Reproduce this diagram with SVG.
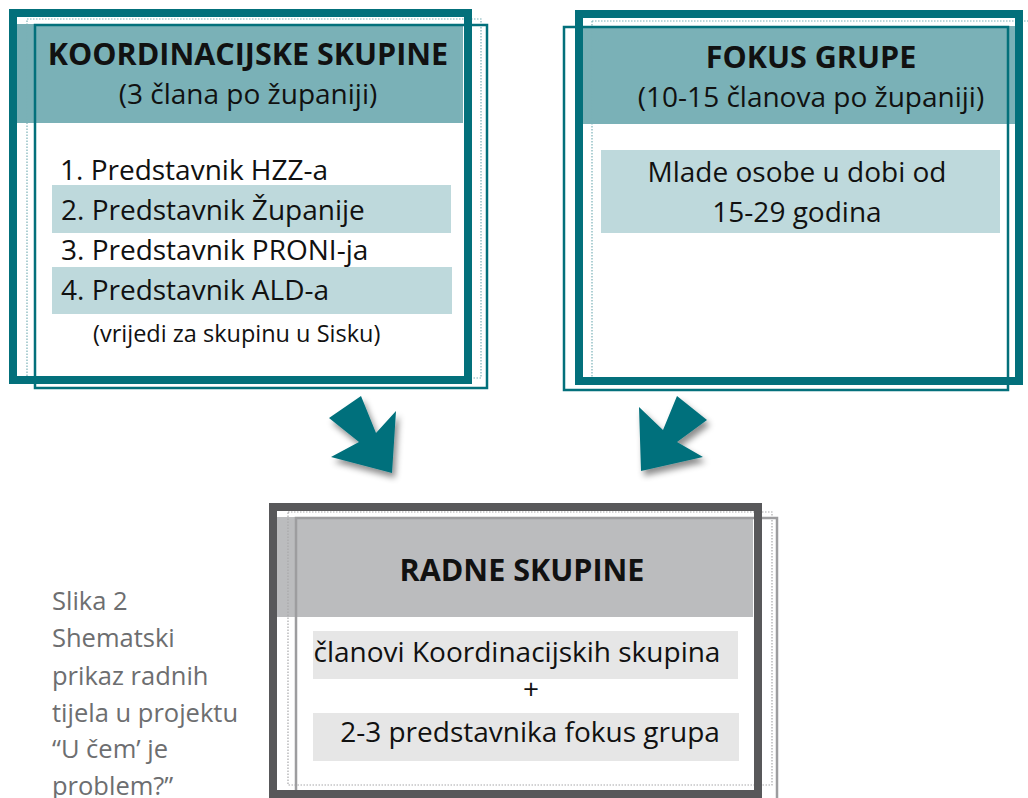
<svg xmlns="http://www.w3.org/2000/svg" width="1028" height="798" viewBox="0 0 1028 798">
<defs>
<style>
text{font-family:"Open Sans","Noto Sans","Liberation Sans",sans-serif;fill:#111;}
.h{font-weight:bold;font-size:30.5px;text-anchor:middle;}
.sub{font-size:28px;text-anchor:middle;}
.li{font-size:28px;}
.small{font-size:23.5px;}
.cap{font-size:25.5px;fill:#6D6E70;}
.thickT{fill:none;stroke:#03707B;stroke-width:8;}
.thinT{fill:none;stroke:#03707B;stroke-width:2.5;}
.dotT{fill:none;stroke:#7AB1B7;stroke-width:1.2;stroke-dasharray:1.5 1.5;}
.hdrT{fill:#7AB1B7;}
.band{fill:#BED9DC;}
.thickG{fill:none;stroke:#58585A;stroke-width:8;}
.thinG{fill:none;stroke:#9D9D9F;stroke-width:2.5;}
.dotG{fill:none;stroke:#A8A8AA;stroke-width:1.2;stroke-dasharray:1.5 1.5;}
.bandG{fill:#E6E6E6;}
.arrow{fill:#03707B;filter:url(#sh);}
</style>
<filter id="sh" x="-30%" y="-30%" width="160%" height="160%">
<feDropShadow dx="3" dy="5" stdDeviation="3" flood-color="#000" flood-opacity="0.45"/>
</filter>
</defs>

<g id="koordinacijske">
<rect class="hdrT" x="17" y="24" width="446" height="99"/>
<rect class="dotT" x="27" y="19" width="454" height="359"/>
<rect class="thinT" x="35" y="25" width="452" height="363"/>
<rect class="thickT" x="13" y="13" width="455" height="367"/>
<text class="h" x="248" y="65">KOORDINACIJSKE SKUPINE</text>
<text class="sub" x="248" y="104">(3 člana po županiji)</text>
<rect class="band" x="52" y="185" width="399" height="48"/>
<rect class="band" x="52" y="267" width="400" height="47"/>
<text class="li" x="60" y="180">1. Predstavnik HZZ-a</text>
<text class="li" x="61" y="220">2. Predstavnik Županije</text>
<text class="li" x="61" y="260">3. Predstavnik PRONI-ja</text>
<text class="li" x="61" y="300">4. Predstavnik ALD-a</text>
<text class="small" x="93" y="342">(vrijedi za skupinu u Sisku)</text>
</g>

<g id="fokus">
<rect class="hdrT" x="579" y="26" width="440" height="98"/>
<path class="dotT" d="M592 21H1028M592 21V378"/>
<rect class="thinT" x="564" y="27" width="444" height="363"/>
<rect class="thickT" x="579" y="14" width="440" height="367"/>
<text class="h" x="811" y="68">FOKUS GRUPE</text>
<text class="sub" x="811" y="107">(10-15 članova po županiji)</text>
<rect class="band" x="601" y="150" width="399" height="83"/>
<text class="sub" x="797" y="182">Mlade osobe u dobi od</text>
<text class="sub" x="797" y="222">15-29 godina</text>
</g>

<g id="radne">
<rect x="269" y="517" width="484" height="100" fill="#BBBCBE"/>
<rect class="dotG" x="288" y="512" width="484" height="273"/>
<rect class="thinG" x="296" y="518" width="481" height="290"/>
<rect class="thickG" x="273" y="507" width="485" height="287"/>
<text class="h" x="522" y="581">RADNE SKUPINE</text>
<rect class="bandG" x="313" y="631" width="425" height="48"/>
<rect class="bandG" x="313" y="713" width="426" height="48"/>
<text class="sub" x="517" y="662">članovi Koordinacijskih skupina</text>
<text class="sub" x="531" y="699">+</text>
<text class="sub" x="530" y="742">2-3 predstavnika fokus grupa</text>
</g>

<g id="connectors">
<polygon class="arrow" points="329,418 361,396 376,433 396,411 392,473 331,457 359,442"/>
<polygon class="arrow" points="677,396 707,420 677,442 703,457 641,471 639,407 663,430"/>
</g>

<g id="caption">
<text class="cap" x="52" y="610">Slika 2</text>
<text class="cap" x="52" y="647">Shematski</text>
<text class="cap" x="52" y="685">prikaz radnih</text>
<text class="cap" x="52" y="722">tijela u projektu</text>
<text class="cap" x="52" y="758">“U čem’ je</text>
<text class="cap" x="52" y="795">problem?”</text>
</g>
</svg>
